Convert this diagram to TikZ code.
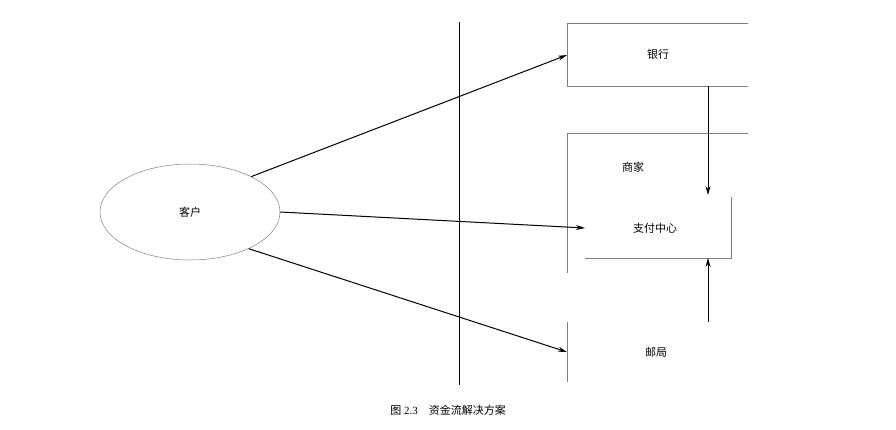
\documentclass[tikz,border=0pt]{standalone}
\usepackage{fontspec}
\setmainfont{Liberation Serif}
\newfontfamily\cjk{Noto Sans CJK SC}
\usetikzlibrary{arrows.meta,shapes.geometric}
\tikzset{every picture/.style={line width=0.75pt}}

\begin{document}
\begin{tikzpicture}[x=1pt,y=1pt,yscale=-1,xscale=1]
\tikzset{frame/.style={draw=gray,line width=0.6pt},
  flow/.style={draw=black,line width=1pt,-{Stealth[length=9pt,width=5pt]}},
  lbl/.style={inner sep=0pt,font=\cjk\fontsize{11}{13}\selectfont}}
\useasboundingbox (0,0) rectangle (896,429);

%Shape: Ellipse
\node (client) [draw=gray,line width=0.5pt,ellipse,minimum width=180pt,minimum height=96pt,inner sep=0pt,lbl] at (190,212) {客户};
%Straight Lines
\draw [line width=0.8pt] (459,22) -- (459,385);
%Shape: Open boxes
\draw [frame] (748,23) -- (567,23) -- (567,86) -- (748,86);
\draw [frame] (748,133) -- (567,133) -- (567,273);
\draw [frame] (585,258) -- (731,258) -- (731,197);
\draw [frame] (567,322) -- (567,382);

% Text Node
\node (bank) [lbl] at (658,54) {银行};
\node (shop) [lbl] at (633,167) {商家};
\node (pay) [lbl] at (655,228) {支付中心};
\node (post) [lbl] at (656,352) {邮局};
\coordinate (bankin) at (567,55);
\coordinate (payin) at (585,228);
\coordinate (postin) at (567,352);
\coordinate (banktop) at (708,86);
\coordinate (payhi) at (708,195);
\coordinate (paylo) at (708,258);
\coordinate (postup) at (708,322);

%Arrows
\draw [flow] (client.30) -- (bankin);
\draw [flow] (client.east) -- (payin);
\draw [flow] (client.-32) -- (postin);
\draw [flow] (banktop) -- (payhi);
\draw [flow] (postup) -- (paylo);

% Caption
\node (cap) [inner sep=0pt,font=\fontsize{11}{13}\selectfont] at (448,410) {{\cjk 图} 2.3\quad{\cjk 资金流解决方案}};
\end{tikzpicture}
\end{document}
